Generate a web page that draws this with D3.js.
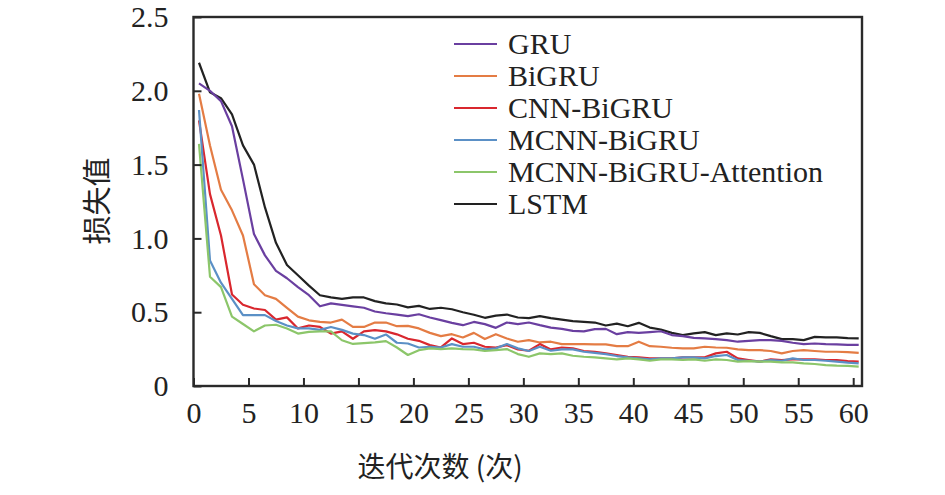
<!DOCTYPE html>
<html><head><meta charset="utf-8">
<script src="https://cdn.jsdelivr.net/npm/d3@7"></script>
<style>
html,body{margin:0;padding:0;background:#fff;}
svg{display:block;}
</style></head>
<body>
<svg id="chart" width="945" height="495"></svg>
<script>
const epochs = [0.5,1.5,2.5,3.5,4.5,5.5,6.5,7.5,8.5,9.5,10.5,11.5,12.5,13.5,14.5,15.5,16.5,17.5,18.5,19.5,20.5,21.5,22.5,23.5,24.5,25.5,26.5,27.5,28.5,29.5,30.5,31.5,32.5,33.5,34.5,35.5,36.5,37.5,38.5,39.5,40.5,41.5,42.5,43.5,44.5,45.5,46.5,47.5,48.5,49.5,50.5,51.5,52.5,53.5,54.5,55.5,56.5,57.5,58.5,59.5,60.5];

const gru = [2.05,2.00,1.93,1.76,1.40,1.03,0.885,0.78,0.73,0.67,0.615,0.54,0.56,0.55,0.54,0.53,0.505,0.493,0.484,0.473,0.486,0.464,0.446,0.428,0.412,0.434,0.419,0.394,0.43,0.419,0.43,0.412,0.396,0.387,0.374,0.37,0.385,0.387,0.351,0.365,0.36,0.365,0.371,0.345,0.338,0.326,0.322,0.318,0.311,0.30,0.306,0.311,0.311,0.306,0.293,0.284,0.288,0.284,0.282,0.279,0.279];
const bigru = [1.98,1.63,1.33,1.19,1.02,0.69,0.615,0.59,0.53,0.47,0.445,0.435,0.43,0.45,0.40,0.40,0.43,0.43,0.405,0.407,0.39,0.36,0.338,0.351,0.329,0.36,0.318,0.351,0.322,0.30,0.311,0.295,0.30,0.284,0.284,0.284,0.282,0.282,0.27,0.27,0.30,0.27,0.266,0.259,0.255,0.255,0.266,0.261,0.259,0.248,0.243,0.243,0.237,0.221,0.237,0.243,0.237,0.232,0.232,0.23,0.225];
const cnnBigru = [1.80,1.30,1.02,0.62,0.55,0.525,0.515,0.45,0.465,0.39,0.41,0.40,0.355,0.37,0.32,0.37,0.378,0.37,0.35,0.32,0.306,0.277,0.261,0.322,0.284,0.293,0.266,0.261,0.277,0.248,0.239,0.284,0.248,0.261,0.255,0.237,0.232,0.221,0.21,0.198,0.194,0.187,0.187,0.187,0.194,0.194,0.194,0.221,0.232,0.187,0.176,0.165,0.18,0.176,0.18,0.18,0.18,0.176,0.176,0.169,0.165];
const mcnnBigru = [1.87,0.85,0.70,0.59,0.48,0.48,0.48,0.44,0.41,0.39,0.39,0.38,0.40,0.38,0.355,0.345,0.32,0.349,0.293,0.288,0.261,0.266,0.261,0.284,0.266,0.266,0.248,0.255,0.284,0.255,0.237,0.266,0.239,0.248,0.248,0.232,0.225,0.216,0.203,0.194,0.187,0.18,0.187,0.187,0.194,0.194,0.187,0.203,0.21,0.176,0.171,0.165,0.176,0.171,0.187,0.176,0.176,0.171,0.165,0.158,0.153];
const mcnnBigruAtt = [1.64,0.74,0.67,0.47,0.42,0.37,0.41,0.415,0.39,0.355,0.367,0.37,0.37,0.31,0.285,0.29,0.295,0.304,0.261,0.21,0.243,0.255,0.25,0.255,0.25,0.248,0.237,0.243,0.25,0.216,0.198,0.221,0.216,0.221,0.205,0.198,0.194,0.187,0.18,0.187,0.18,0.171,0.18,0.18,0.176,0.18,0.171,0.18,0.176,0.165,0.169,0.165,0.165,0.16,0.16,0.153,0.149,0.142,0.138,0.136,0.131];
const lstm = [2.19,1.99,1.95,1.84,1.63,1.50,1.21,0.97,0.82,0.75,0.68,0.615,0.60,0.59,0.60,0.60,0.575,0.56,0.552,0.533,0.543,0.522,0.53,0.52,0.50,0.483,0.462,0.477,0.484,0.464,0.46,0.473,0.46,0.45,0.439,0.434,0.43,0.41,0.423,0.405,0.428,0.396,0.383,0.36,0.345,0.356,0.365,0.345,0.356,0.349,0.365,0.36,0.338,0.318,0.318,0.311,0.333,0.329,0.329,0.324,0.322];

const seriesNames = ["GRU","BiGRU","CNN-BiGRU","MCNN-BiGRU","MCNN-BiGRU-Attention","LSTM"];
const seriesValues = [gru, bigru, cnnBigru, mcnnBigru, mcnnBigruAtt, lstm];
const seriesColors = ["#6a3fa0","#e47c44","#d9272e","#5b90c6","#8cc66a","#222222"];

const xTicks = [0,5,10,15,20,25,30,35,40,45,50,55,60];
const yTicks = [0,0.5,1.0,1.5,2.0,2.5];
const yTickLabels = ["0","0.5","1.0","1.5","2.0","2.5"];

const xTitle = "迭代次数 (次)";
const yTitle = "损失值";

const svg = d3.select("#chart");
const L = 193.5, R = 862, T = 17, B = 386;

const x = d3.scaleLinear().domain([0, 60.8]).range([L, R]);
const y = d3.scaleLinear().domain([0, 2.5]).range([B, T]);

const serif = "'Liberation Serif','Times New Roman',serif";
const cjk = "'Noto Sans CJK SC','Noto Sans CJK JP',sans-serif";

const line = d3.line().x((d,i)=>x(epochs[i])).y(d=>y(d));
const plot = svg.append("g");
const order = [5,0,1,2,3,4];
order.forEach(k=>{
  plot.append("path")
    .datum(seriesValues[k])
    .attr("d", line)
    .attr("fill","none")
    .attr("stroke", seriesColors[k])
    .attr("stroke-width", 2.2)
    .attr("stroke-linejoin","round");
});

svg.append("rect")
  .attr("x", L).attr("y", T)
  .attr("width", R-L).attr("height", B-T)
  .attr("fill","none").attr("stroke","#2a2a2a").attr("stroke-width",2.4);

const xAxis = d3.axisBottom(x).tickValues(xTicks).tickSizeInner(-8).tickSizeOuter(0).tickPadding(16);
const gx = svg.append("g").attr("transform",`translate(0,${B})`).call(xAxis);
gx.select(".domain").remove();
gx.selectAll(".tick line").attr("stroke","#2a2a2a").attr("stroke-width",2);
gx.selectAll(".tick text").attr("font-family",serif).attr("font-size",30).attr("fill","#222")
  .attr("dy","0.71em");

const yAxis = d3.axisLeft(y).tickValues(yTicks).tickFormat((d,i)=>yTickLabels[i]).tickSizeInner(-8).tickSizeOuter(0).tickPadding(25);
const gy = svg.append("g").attr("transform",`translate(${L},0)`).call(yAxis);
gy.select(".domain").remove();
gy.selectAll(".tick line").attr("stroke","#2a2a2a").attr("stroke-width",2);
gy.selectAll(".tick text").attr("font-family",serif).attr("font-size",30).attr("fill","#222");

svg.append("text").attr("x", 440).attr("y", 477)
  .attr("text-anchor","middle").attr("font-family",cjk).attr("font-size",28).attr("fill","#222")
  .text(xTitle);
svg.append("text").attr("transform","translate(108,201) rotate(-90)")
  .attr("text-anchor","middle").attr("font-family",cjk).attr("font-size",29).attr("fill","#222")
  .text(yTitle);

const leg = svg.append("g");
seriesNames.forEach((name,i)=>{
  const yy = 44 + i*32;
  leg.append("line").attr("x1",454).attr("x2",497).attr("y1",yy).attr("y2",yy)
    .attr("stroke",seriesColors[i]).attr("stroke-width",2);
  leg.append("text").attr("x",508).attr("y",yy).attr("dy","0.33em")
    .attr("font-family",serif).attr("font-size",30).attr("fill","#222").text(name);
});
</script>
</body></html>
